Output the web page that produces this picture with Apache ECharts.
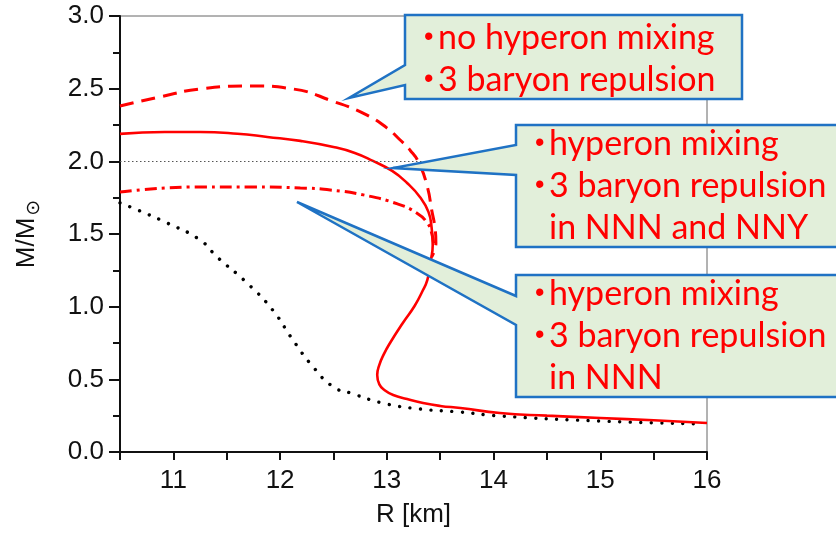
<!DOCTYPE html>
<html>
<head>
<meta charset="utf-8">
<script src="https://cdn.jsdelivr.net/npm/echarts@6/dist/echarts.min.js"></script>
<style>
  html, body { margin: 0; padding: 0; background: #fff; }
  #chart { width: 836px; height: 533px; }
</style>
</head>
<body>
<div id="chart"></div>
<script>
// Neutron-star mass–radius relations for three equations of state

// no hyperon mixing, 3-baryon repulsion (dashed)
const noHypR = [10.50, 10.87, 11.25, 11.72, 12.12, 12.50, 12.81, 13.00, 13.12, 13.22, 13.30, 13.38, 13.42, 13.45, 13.46, 13.42];
const noHypM = [2.381, 2.443, 2.498, 2.519, 2.498, 2.412, 2.320, 2.230, 2.150, 2.075, 1.990, 1.824, 1.666, 1.549, 1.438, 1.342];

// hyperon mixing, repulsion in NNN and NNY (solid, continues into the common low-mass branch)
const nnyR = [10.50, 10.92, 11.25, 11.60, 11.88, 12.19, 12.50, 12.70, 12.87, 13.05, 13.19, 13.31, 13.39, 13.42, 13.43, 13.41, 13.38, 13.33, 13.26, 13.15, 13.03, 12.97, 12.93, 12.91, 12.93, 12.98, 13.06, 13.19, 13.34, 13.50, 13.69, 14.06, 14.50, 15.00, 15.50, 16.00];
const nnyM = [2.189, 2.202, 2.202, 2.190, 2.168, 2.141, 2.099, 2.058, 2.003, 1.934, 1.851, 1.755, 1.652, 1.542, 1.425, 1.308, 1.184, 1.101, 1.005, 0.888, 0.750, 0.670, 0.600, 0.530, 0.465, 0.425, 0.392, 0.365, 0.337, 0.317, 0.303, 0.268, 0.250, 0.234, 0.218, 0.200];

// hyperon mixing, repulsion in NNN only (dash-dot)
const nnnR = [10.50, 11.25, 11.72, 12.19, 12.47, 12.78, 13.10, 13.28, 13.38, 13.42, 13.44];
const nnnM = [1.789, 1.824, 1.824, 1.817, 1.803, 1.769, 1.707, 1.645, 1.576, 1.507, 1.425];

// reference EOS (black dotted)
const refR = [10.50, 10.62, 10.94, 11.25, 11.41, 11.69, 11.93, 12.12, 12.31, 12.50, 12.66, 12.96, 13.31, 13.69, 14.06, 15.00, 15.94];
const refM = [1.714, 1.679, 1.576, 1.459, 1.342, 1.163, 0.977, 0.771, 0.585, 0.447, 0.406, 0.337, 0.296, 0.275, 0.248, 0.213, 0.193];

const xTicks = [11, 12, 13, 14, 15, 16];
const yTicks = [0.0, 0.5, 1.0, 1.5, 2.0, 2.5, 3.0];
const twoSolarMass = 2.0;

const calloutTexts = [
  ['no hyperon mixing', '3 baryon repulsion'],
  ['hyperon mixing', '3 baryon repulsion', 'in NNN and NNY'],
  ['hyperon mixing', '3 baryon repulsion', 'in NNN']
];

const zip = (xs, ys) => xs.map((x, i) => [x, ys[i]]);
const RED = '#ff0000';
const BLUE = '#1f72c4';
const GREEN = '#e2efda';
const CALLOUT_FONT = 'Lato';
const CALLOUT_SIZE = 34;
const AXIS_FONT = 'Liberation Sans';

function calloutText(lines, x, y) {
  // bullet lines; the continuation line is indented under the text
  const parts = lines.map((l, i) => (i < 2 ? '{b|•}{t|' + l + '}' : '{s|}{t|' + l + '}'));
  return {
    type: 'text', left: x, top: y, z: 101,
    style: {
      text: parts.join('\n'),
      fill: RED,
      font: CALLOUT_SIZE + 'px ' + CALLOUT_FONT,
      lineHeight: 42,
      rich: {
        b: { fill: RED, fontSize: 27, fontFamily: AXIS_FONT, width: 14, lineHeight: 42 },
        s: { width: 14, lineHeight: 42 },
        t: { fill: RED, fontSize: CALLOUT_SIZE, fontFamily: CALLOUT_FONT, lineHeight: 42 }
      }
    }
  };
}

function calloutShape(points) {
  return {
    type: 'polygon', z: 100,
    shape: { points: points },
    style: { fill: GREEN, stroke: BLUE, lineWidth: 2.5, lineJoin: 'miter' }
  };
}

const chart = echarts.init(document.getElementById('chart'), null, { renderer: 'canvas' });

chart.setOption({
  animation: false,
  backgroundColor: '#ffffff',
  grid: {
    left: 120, right: 129, top: 16, bottom: 81,
    show: true, borderColor: '#666', borderWidth: 1, backgroundColor: 'transparent'
  },
  xAxis: {
    type: 'value', min: 10.5, max: 16, interval: 0.5,
    name: 'R [km]', nameLocation: 'middle', nameGap: 50,
    nameTextStyle: { fontFamily: AXIS_FONT, fontSize: 26, color: '#111' },
    axisLine: { show: true, onZero: false, lineStyle: { color: '#111', width: 2 } },
    axisTick: { show: true, length: 8, lineStyle: { color: '#111', width: 2 } },
    axisLabel: {
      margin: 16, fontFamily: AXIS_FONT, fontSize: 26, color: '#111',
      formatter: v => (xTicks.includes(v) ? String(v) : '')
    },
    splitLine: { show: false }
  },
  yAxis: {
    type: 'value', min: 0, max: 3, interval: 0.5,
    name: 'M/M{s|⊙}', nameLocation: 'middle', nameGap: 76,
    nameTextStyle: {
      fontFamily: AXIS_FONT, fontSize: 26, color: '#111',
      rich: { s: { fontSize: 19, fontFamily: 'DejaVu Sans', color: '#111', padding: [16, 0, 0, 2] } }
    },
    axisLine: { show: true, onZero: false, lineStyle: { color: '#111', width: 2 } },
    axisTick: { show: true, length: 11, lineStyle: { color: '#111', width: 2 } },
    minorTick: { show: true, splitNumber: 2, length: 7, lineStyle: { color: '#111', width: 2 } },
    axisLabel: {
      margin: 16, fontFamily: AXIS_FONT, fontSize: 26, color: '#111',
      formatter: v => (yTicks.includes(v) ? v.toFixed(1) : '')
    },
    splitLine: { show: false },
    minorSplitLine: { show: false }
  },
  series: [
    {
      name: 'reference', type: 'line', data: zip(refR, refM), smooth: 0.5,
      showSymbol: false, silent: true,
      lineStyle: { color: '#000', width: 3.4, type: [0.01, 10.5], cap: 'round' },
      markLine: {
        silent: true, symbol: 'none', label: { show: false },
        lineStyle: { color: '#555', width: 1, type: [1.5, 2.5] },
        data: [{ yAxis: twoSolarMass }]
      }
    },
    {
      name: 'NNN', type: 'line', data: zip(nnnR, nnnM), smooth: 0.5,
      showSymbol: false, silent: true,
      lineStyle: { color: RED, width: 3, type: [12, 5, 3, 5] }
    },
    {
      name: 'no hyperon', type: 'line', data: zip(noHypR, noHypM), smooth: 0.5,
      showSymbol: false, silent: true,
      lineStyle: { color: RED, width: 3, type: [14, 8] }
    },
    {
      name: 'NNY', type: 'line', data: zip(nnyR, nnyM), smooth: 0.5,
      showSymbol: false, silent: true,
      lineStyle: { color: RED, width: 2.6 }
    }
  ],
  graphic: [
    calloutShape([[405, 15], [742, 15], [742, 99], [405, 99], [405, 85], [349, 98], [405, 65]]),
    calloutShape([[516, 125], [842, 125], [842, 247], [516, 247], [516, 175], [393, 168], [516, 145]]),
    calloutShape([[516, 275], [842, 275], [842, 397], [516, 397], [516, 325], [297, 202], [516, 296]]),
    calloutText(calloutTexts[0], 424, 17),
    calloutText(calloutTexts[1], 535, 123),
    calloutText(calloutTexts[2], 535, 273)
  ]
});
</script>
</body>
</html>
